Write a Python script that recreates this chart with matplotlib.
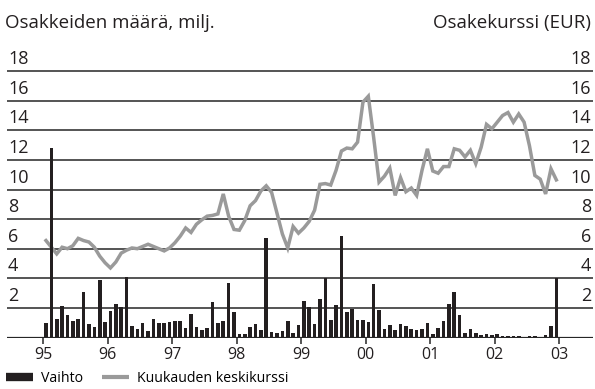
import numpy as np
import matplotlib
matplotlib.use("Agg")
import matplotlib.pyplot as plt
from matplotlib.lines import Line2D
from matplotlib import transforms

plt.rcParams['font.family'] = ['Open Sans', 'DejaVu Sans']

# Monthly data, January 1995 - December 2002
years = list(range(1995, 2003))

# Trading volume, million shares
vaihto = [
    1.0, 12.8, 1.25, 2.1, 1.5, 1.1, 1.25, 3.05, 0.9, 0.7, 3.9, 1.05,      # 1995
    1.8, 2.25, 2.05, 4.1, 0.78, 0.58, 0.98, 0.45, 1.25, 0.98, 0.98, 1.05, # 1996
    1.1, 1.1, 0.63, 1.58, 0.7, 0.5, 0.63, 2.4, 0.98, 1.1, 3.67, 1.72,     # 1997
    0.23, 0.23, 0.7, 0.9, 0.5, 6.7, 0.37, 0.3, 0.45, 1.1, 0.3, 0.85,      # 1998
    2.5, 2.05, 0.9, 2.6, 4.0, 1.18, 2.2, 6.85, 1.72, 1.95, 1.18, 1.18,    # 1999
    1.05, 3.6, 1.85, 0.58, 0.85, 0.5, 0.9, 0.78, 0.58, 0.5, 0.58, 0.98,   # 2000
    0.25, 0.63, 1.1, 2.25, 3.05, 1.55, 0.33, 0.58, 0.33, 0.2, 0.27, 0.18, # 2001
    0.27, 0.1, 0.12, 0.1, 0.1, 0.05, 0.12, 0.1, 0.05, 0.15, 0.78, 4.0,    # 2002
]

# Monthly average share price, EUR
keskikurssi = [
    6.55, 6.1, 5.65, 6.1, 6.0, 6.2, 6.7, 6.55, 6.45, 6.1, 5.5, 5.05,          # 1995
    4.7, 5.1, 5.7, 5.9, 6.05, 6.0, 6.15, 6.3, 6.15, 6.0, 5.85, 6.05,          # 1996
    6.4, 6.85, 7.4, 7.1, 7.65, 7.95, 8.2, 8.25, 8.35, 9.7, 8.2, 7.3,          # 1997
    7.25, 7.9, 8.9, 9.25, 9.9, 10.25, 9.8, 8.4, 7.0, 6.05, 7.5, 7.05,         # 1998
    7.4, 7.85, 8.6, 10.35, 10.4, 10.3, 11.3, 12.6, 12.8, 12.75, 13.2, 15.9,   # 1999
    16.3, 13.5, 10.5, 10.9, 11.45, 9.6, 10.8, 9.85, 10.1, 9.6, 11.3, 12.75,   # 2000
    11.25, 11.1, 11.55, 11.55, 12.75, 12.65, 12.2, 12.65, 11.75, 12.85, 14.4, 14.1,  # 2001
    14.55, 15.0, 15.2, 14.55, 15.1, 14.55, 12.95, 10.95, 10.7, 9.7, 11.4, 10.65,     # 2002
]

x_ticks = list(range(1995, 2004))
x_labels = ["95", "96", "97", "98", "99", "00", "01", "02", "03"]
y_ticks = [2, 4, 6, 8, 10, 12, 14, 16, 18]
y_labels = [str(v) for v in y_ticks]

# month centres as fractional years
t = np.array([y + (m + 0.5) / 12 for y in years for m in range(12)])

W, H = 595, 389
fig = plt.figure(figsize=(W / 100, H / 100), dpi=100)
ax = fig.add_axes([7 / W, 1 - 337.5 / H, 586 / W, 281.2 / H])
ax.set_xlim(1994.437, 2003.527)
ax.set_ylim(0, 19)

for s in ax.spines.values():
    s.set_visible(False)

grid_col = "#262626"
for v in y_ticks:
    ax.axhline(v, color=grid_col, lw=1.1, zorder=1)
ax.axhline(0, color=grid_col, lw=1.6, zorder=4)

ax.plot(t, keskikurssi, color="#9a9a9a", lw=2.5, zorder=2,
        solid_joinstyle="miter")
ax.bar(t, vaihto, width=0.056, color="#231f20", zorder=3)

# axis value labels sit just above their grid lines, inside the plot area
off = transforms.ScaledTranslation(0, 5 / 72, fig.dpi_scale_trans)
label_tr = transforms.blended_transform_factory(fig.transFigure, ax.transData) + off
for v, lab in zip(y_ticks, y_labels):
    ax.text(8 / W, v, lab, transform=label_tr, ha="left", va="baseline",
            fontsize=13, color="#231f20")
    ax.text(591 / W, v, lab, transform=label_tr, ha="right", va="baseline",
            fontsize=13, color="#231f20")

ax.set_yticks([])
ax.set_xticks(x_ticks)
ax.set_xticklabels(x_labels, fontsize=11.5, color="#231f20")
ax.tick_params(axis="x", direction="out", length=4, width=1.1,
               color=grid_col, pad=3)

fig.text(5 / W, 1 - 28 / H, "Osakkeiden määrä, milj.", ha="left",
         va="baseline", fontsize=13.5, color="#231f20")
fig.text(591 / W, 1 - 28 / H, "Osakekurssi (EUR)", ha="right",
         va="baseline", fontsize=13.5, color="#231f20")

handles = [Line2D([], [], color="#231f20", lw=6, solid_capstyle="butt"),
           Line2D([], [], color="#9a9a9a", lw=3, solid_capstyle="butt")]
fig.legend(handles, ["Vaihto", "Kuukauden keskikurssi"], loc="lower left",
           bbox_to_anchor=(3 / W, 0), ncol=2, frameon=False, fontsize=10.2,
           handlelength=1.9, handletextpad=0.6, columnspacing=1.3,
           borderaxespad=0.1, borderpad=0.1)

fig.savefig("out.png", dpi=100)
